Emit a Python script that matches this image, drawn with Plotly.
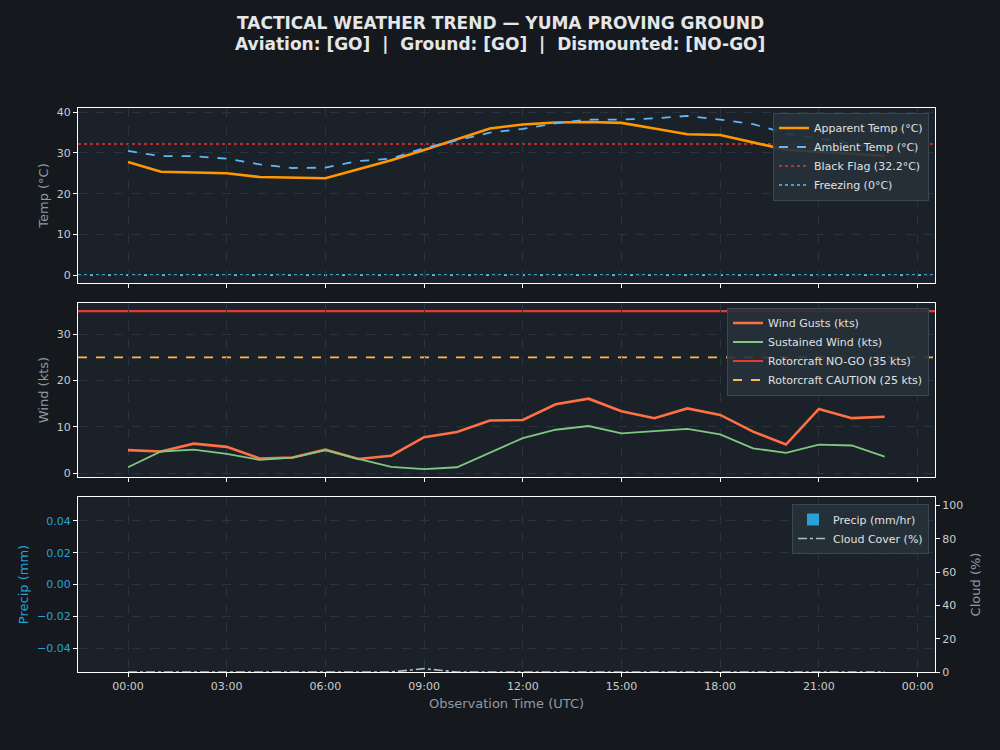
import pandas as pd
import plotly.graph_objects as go
from plotly.subplots import make_subplots

# Почасові спостереження, 00:00 - 23:00 UTC
hours = list(range(24))
apparent_temp = [27.8, 25.4, 25.2, 25.0, 24.1, 24.0, 23.8, 26.0, 28.2, 30.7, 33.3, 36.0,
                 37.0, 37.5, 37.6, 37.4, 36.0, 34.6, 34.4, 32.6, 30.8, 30.3, 29.8, 29.3]
ambient_temp = [30.5, 29.2, 29.2, 28.6, 27.2, 26.3, 26.4, 28.0, 28.6, 31.2, 33.1, 35.0,
                35.9, 37.3, 38.2, 38.2, 38.5, 39.1, 38.2, 37.1, 34.8, 33.6, 32.3, 31.1]
wind_gusts = [5.0, 4.7, 6.4, 5.7, 3.2, 3.4, 5.1, 3.1, 3.8, 7.8, 8.9, 11.4,
              11.5, 14.9, 16.1, 13.4, 11.9, 14.0, 12.6, 9.0, 6.2, 13.9, 11.9, 12.2]
sustained_wind = [1.3, 4.7, 5.1, 4.2, 2.9, 3.4, 5.0, 3.1, 1.4, 0.9, 1.3, 4.5,
                  7.6, 9.4, 10.2, 8.6, 9.1, 9.6, 8.4, 5.4, 4.4, 6.2, 6.0, 3.6]
precip = [0.0] * 24
cloud_cover = [0, 0, 0, 0, 0, 0, 0, 0, 0, 2, 0, 0,
               0, 0, 0, 0, 0, 0, 0, 0, 0, 0, 0, 0]

BLACK_FLAG = 32.2
FREEZING = 0
NOGO_WIND = 35
CAUTION_WIND = 25

base = pd.Timestamp("2024-07-15 00:00")
times = [base + pd.Timedelta(hours=h) for h in hours]
x_range = [base - pd.Timedelta(hours=1.52), base + pd.Timedelta(hours=24.53)]

FIG_BG = "#15191e"
AX_BG = "#1b2129"
GRID = "#2a3440"
TICK = "#c8ccd0"
LABEL = "#8d99a5"
FONT = "DejaVu Sans"

fig = make_subplots(rows=3, cols=1, shared_xaxes=True,
                    specs=[[{}], [{}], [{"secondary_y": True}]])

# Панель температури
fig.add_trace(go.Scatter(x=times, y=apparent_temp, mode="lines", name="Apparent Temp (°C)",
                         line=dict(color="#ff9800", width=2.6), legend="legend"), row=1, col=1)
fig.add_trace(go.Scatter(x=times, y=ambient_temp, mode="lines", name="Ambient Temp (°C)",
                         line=dict(color="#64b5f6", width=1.8, dash="dash"), legend="legend"), row=1, col=1)

# Панель вітру
fig.add_trace(go.Scatter(x=times, y=wind_gusts, mode="lines", name="Wind Gusts (kts)",
                         line=dict(color="#ff7043", width=2.6), legend="legend2"), row=2, col=1)
fig.add_trace(go.Scatter(x=times, y=sustained_wind, mode="lines", name="Sustained Wind (kts)",
                         line=dict(color="#81c784", width=1.8), legend="legend2"), row=2, col=1)

# Опади та хмарність
fig.add_trace(go.Bar(x=times, y=precip, name="Precip (mm/hr)", marker_color="#29a0d8",
                     marker_line_width=0, legend="legend3"), row=3, col=1, secondary_y=False)
fig.add_trace(go.Scatter(x=times, y=cloud_cover, mode="lines", name="Cloud Cover (%)",
                         line=dict(color="#b0bec5", width=1.6, dash="dashdot"), legend="legend3"),
              row=3, col=1, secondary_y=True)

# Порогові лінії
def threshold(y, yref, color, dash, width, name, legend):
    fig.add_shape(type="line", xref="x domain", x0=0, x1=1, yref=yref, y0=y, y1=y,
                  line=dict(color=color, dash=dash, width=width),
                  showlegend=True, name=name, legend=legend, layer="below")

threshold(BLACK_FLAG, "y", "#e53935", "dot", 1.7, "Black Flag (32.2°C)", "legend")
threshold(FREEZING, "y", "#4fc3f7", "dot", 1.7, "Freezing (0°C)", "legend")
threshold(NOGO_WIND, "y2", "#e53935", "solid", 2.2, "Rotorcraft NO-GO (35 kts)", "legend2")
threshold(CAUTION_WIND, "y2", "#ffb74d", "dash", 1.8, "Rotorcraft CAUTION (25 kts)", "legend2")

axis_common = dict(showline=True, linecolor="#ffffff", linewidth=1.3, mirror=True,
                   ticks="outside", tickcolor="#ffffff", ticklen=4, automargin=False,
                   showgrid=True, gridcolor=GRID, griddash="dash", gridwidth=1,
                   zeroline=False, tickfont=dict(color=TICK, size=11))

legend_common = dict(bgcolor="rgba(38,49,58,0.9)", bordercolor="#3a4652", borderwidth=1,
                     font=dict(color="#e0e0e0", size=11, family=FONT),
                     xanchor="right", yanchor="top", x=0.929, tracegroupgap=0)

fig.update_layout(
    width=1000, height=750, autosize=False,
    paper_bgcolor=FIG_BG, plot_bgcolor=AX_BG,
    font=dict(family=FONT, color=TICK),
    margin=dict(l=0, r=0, t=0, b=0),
    bargap=0.2,
    legend=dict(legend_common, y=0.85),
    legend2=dict(legend_common, y=0.59),
    legend3=dict(legend_common, y=0.328),
    annotations=[
        dict(text="<b>TACTICAL WEATHER TREND — YUMA PROVING GROUND</b>", xref="paper", yref="paper",
             x=0.5, y=1 - 23 / 750, yanchor="middle", showarrow=False,
             font=dict(size=17, color="#e4e6e8")),
        dict(text="<b>Aviation: [GO]  |  Ground: [GO]  |  Dismounted: [NO-GO]</b>", xref="paper",
             yref="paper", x=0.5, y=1 - 44 / 750, yanchor="middle", showarrow=False,
             font=dict(size=17, color="#e4e6e8")),
    ],
)

x_dom = [0.078, 0.935]
fig.update_xaxes(axis_common, domain=x_dom, range=x_range, tickformat="%H:%M", dtick=3 * 3600 * 1000)
fig.update_xaxes(showticklabels=False, row=1, col=1)
fig.update_xaxes(showticklabels=False, row=2, col=1)
fig.update_xaxes(row=3, col=1, title=dict(text="Observation Time (UTC)",
                                          font=dict(color=LABEL, size=13), standoff=6))

fig.update_layout(
    yaxis=dict(axis_common, domain=[1 - 283 / 750, 1 - 108 / 750], range=[-1.96, 41.05], dtick=10,
               title=dict(text="Temp (°C)", font=dict(color=LABEL, size=13), standoff=5)),
    yaxis2=dict(axis_common, domain=[1 - 477 / 750, 1 - 303 / 750], range=[-0.8, 36.75], dtick=10,
                title=dict(text="Wind (kts)", font=dict(color=LABEL, size=13), standoff=5)),
    yaxis3=dict(axis_common, domain=[1 - 672 / 750, 1 - 497 / 750], range=[-0.055, 0.055],
                dtick=0.02, tickformat=".2f", tickfont=dict(color="#29a0d8", size=11),
                title=dict(text="Precip (mm)", font=dict(color="#29a0d8", size=13), standoff=5)),
    yaxis4=dict(axis_common, range=[0, 105], dtick=20, showgrid=False, side="right",
                title=dict(text="Cloud (%)", font=dict(color=LABEL, size=13), standoff=8)),
)

fig.write_html("out.html", config={"displayModeBar": False, "responsive": False},
               post_script="document.body.style.margin='0';")
